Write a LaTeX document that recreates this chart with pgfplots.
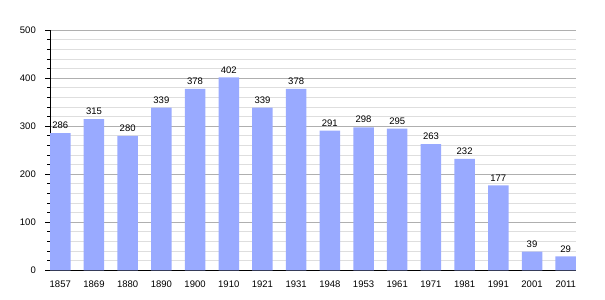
\documentclass[border=0pt]{standalone}
\usepackage{pgfplots}
\pgfplotsset{compat=1.18}
\usepackage{fontspec}
\setmainfont{Liberation Sans}
\definecolor{barblue}{RGB}{153,170,255}
\definecolor{majgrid}{RGB}{175,175,175}
\definecolor{mingrid}{RGB}{222,222,222}
\begin{document}
\begin{tikzpicture}
\useasboundingbox (0,0) rectangle (605bp,300bp);
\begin{axis}[
  at={(50bp,29.7bp)}, anchor=south west,
  scale only axis, width=526bp, height=240bp,
  xmin=-0.305, xmax=15.305, ymin=0, ymax=500,
  axis x line*=bottom, axis y line*=left,
  axis line style={line width=1bp, black},
  xtick=data,
  xticklabels={1857,1869,1880,1890,1900,1910,1921,1931,1948,1953,1961,1971,1981,1991,2001,2011},
  x tick style={draw=none},
  ytick={0,100,...,500},
  minor y tick num=4,
  tick align=outside,
  major tick length=5bp, minor tick length=3bp,
  y tick style={black, line width=0.8bp},
  ymajorgrids, yminorgrids,
  major grid style={majgrid, line width=0.8bp},
  minor grid style={mingrid, line width=0.8bp},
  /pgf/number format/assume math mode=true,
  ticklabel style={font=\fontsize{9.5bp}{11bp}\selectfont, inner sep=0pt},
  xticklabel style={anchor=north, yshift=-5bp},
  yticklabel style={anchor=east, xshift=-9bp},
  nodes near coords,
  every node near coord/.append style={font=\fontsize{9.5bp}{11bp}\selectfont, inner sep=0pt, anchor=south, yshift=4bp, black},
]
\addplot[ybar, bar width=20.5bp, fill=barblue, draw=none] coordinates {
(0,286) (1,315) (2,280) (3,339) (4,378) (5,402) (6,339) (7,378)
(8,291) (9,298) (10,295) (11,263) (12,232) (13,177) (14,39) (15,29)
};
\end{axis}
\end{tikzpicture}
\end{document}
